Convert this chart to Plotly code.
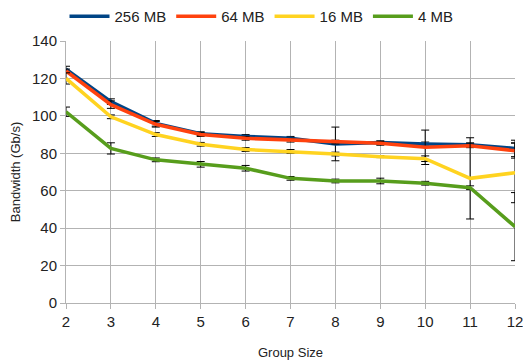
import plotly.graph_objects as go

group_size = [2, 3, 4, 5, 6, 7, 8, 9, 10, 11, 12]

bw_256 = [125.0, 107.6, 96.0, 90.5, 89.0, 88.0, 85.0, 85.7, 85.0, 84.6, 82.6]
err_256 = [1.5, 1.5, 1.5, 1.0, 1.0, 1.0, 9.0, 1.0, 1.0, 1.0, 4.4]

bw_64 = [124.0, 106.0, 95.5, 90.0, 88.0, 87.0, 86.0, 85.3, 83.2, 84.0, 81.4]
err_64 = [1.0, 2.0, 1.5, 1.0, 1.0, 1.0, 1.0, 1.0, 9.2, 1.0, 4.0]

bw_16 = [120.0, 99.5, 90.0, 84.8, 82.0, 81.0, 79.6, 78.2, 77.1, 66.6, 69.6]
err_16 = [3.0, 1.0, 1.0, 1.0, 1.0, 1.0, 1.0, 0.5, 1.5, 21.7, 16.0]

bw_4 = [102.2, 82.6, 76.5, 74.1, 72.0, 66.6, 65.2, 65.2, 64.0, 61.6, 40.8]
err_4 = [2.5, 3.0, 1.0, 1.5, 1.5, 1.0, 1.0, 1.5, 1.0, 1.0, 18.2]

series = [
    ("256 MB", bw_256, err_256, "#004586"),
    ("64 MB", bw_64, err_64, "#ff420e"),
    ("16 MB", bw_16, err_16, "#ffd320"),
    ("4 MB", bw_4, err_4, "#579d1c"),
]

fig = go.Figure()
for name, ys, es, col in series:
    fig.add_trace(go.Scatter(
        x=group_size, y=ys, name=name, mode="lines",
        line=dict(color=col, width=3.5),
        cliponaxis=False,
        error_y=dict(type="data", array=es, visible=True,
                     color="#000000", thickness=1, width=4),
    ))

fig.update_layout(
    width=523, height=364,
    margin=dict(l=66, r=8, t=41, b=61, autoexpand=False),
    paper_bgcolor="white", plot_bgcolor="white",
    font=dict(family="Liberation Sans, Arial, sans-serif", size=14, color="#222222"),
    showlegend=True,
    legend=dict(orientation="h", xref="container", x=0.5, xanchor="center",
                yref="container", y=1.0, yanchor="top",
                font=dict(size=15), itemwidth=40, traceorder="normal",
                bgcolor="rgba(0,0,0,0)"),
)
fig.update_xaxes(
    range=[2, 12], tickmode="linear", tick0=2, dtick=1,
    showgrid=True, gridcolor="#b3b3b3", gridwidth=1,
    showline=True, linecolor="#b3b3b3", linewidth=1,
    ticks="outside", ticklen=5, tickcolor="#b3b3b3",
    zeroline=False, automargin=False, ticklabeloverflow="allow",
    title=dict(text="Group Size", font=dict(size=13), standoff=18),
    tickfont=dict(size=15),
)
fig.update_yaxes(
    range=[0, 140], tickmode="linear", tick0=0, dtick=20,
    showgrid=True, gridcolor="#b3b3b3", gridwidth=1,
    showline=True, linecolor="#b3b3b3", linewidth=1,
    ticks="outside", ticklen=5, tickcolor="#b3b3b3",
    zeroline=False, automargin=False,
    title=dict(text="Bandwidth (Gb/s)", font=dict(size=13), standoff=8),
    tickfont=dict(size=15),
)

fig.write_html("out.html", config={"displayModeBar": False},
               post_script="document.body.style.margin='0';document.body.style.overflow='hidden';")
